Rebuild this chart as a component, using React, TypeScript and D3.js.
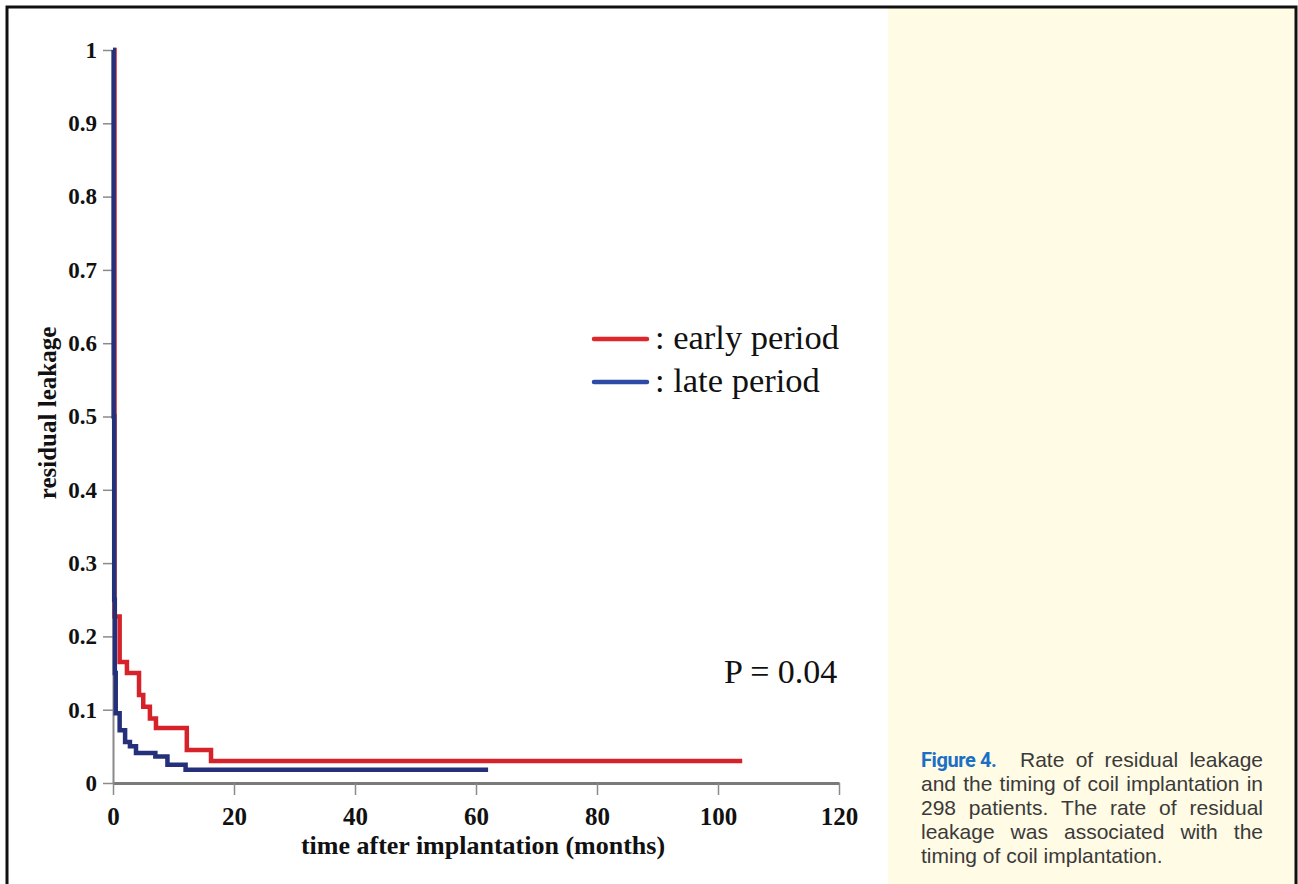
import { useEffect, useRef } from "react";
import * as d3 from "d3";

// axis ticks
const xTicks = [0, 20, 40, 60, 80, 100, 120];
const yTicks = [0, 0.1, 0.2, 0.3, 0.4, 0.5, 0.6, 0.7, 0.8, 0.9, 1];

// step curves (time in months, rate)
const earlyTime = [0, 0.25, 1.1, 2.3, 4.3, 5.0, 6.1, 7.1, 12.2, 16.2, 104];
const earlyRate = [1, 0.227, 0.165, 0.15, 0.12, 0.104, 0.088, 0.075, 0.045, 0.03, 0.03];
const lateTime = [0, 0.1, 0.2, 0.3, 0.45, 1.1, 2.0, 2.8, 3.8, 7.0, 9.0, 12.0, 62];
const lateRate = [1, 0.5, 0.25, 0.15, 0.095, 0.072, 0.056, 0.05, 0.041, 0.036, 0.025, 0.018, 0.018];

const seriesNames = ["early period", "late period"];
const pValue = "P = 0.04";

const captionTitle = "Figure 4.";
const captionLines = [
    ["Rate", "of", "residual", "leakage"],
    ["and", "the", "timing", "of", "coil", "implantation", "in"],
    ["298", "patients.", "The", "rate", "of", "residual"],
    ["leakage", "was", "associated", "with", "the"],
    ["timing", "of", "coil", "implantation."],
];

export default function App() {
    const svgRef = useRef<SVGSVGElement>(null);

    useEffect(() => {
        if (!svgRef.current) return;
        const svg = d3.select(svgRef.current);
        svg.selectAll("*").remove();

        const width = 1298;
        const height = 884;
        const serif = "'Liberation Serif', 'Times New Roman', serif";
        const sans = "'Liberation Sans', Arial, sans-serif";

        svg.append("rect").attr("width", width).attr("height", height).attr("fill", "#fff");

        // caption panel
        svg.append("rect")
            .attr("x", 888).attr("y", 8)
            .attr("width", 407).attr("height", height)
            .attr("fill", "#fffbe4");

        // frame
        svg.append("rect")
            .attr("x", 7).attr("y", 7)
            .attr("width", 1289).attr("height", 920)
            .attr("fill", "none")
            .attr("stroke", "#111")
            .attr("stroke-width", 3);

        const x = d3.scaleLinear().domain([0, 120]).range([113, 839]);
        const y = d3.scaleLinear().domain([0, 1]).range([783, 50]);

        // x axis
        const gx = svg.append("g")
            .attr("transform", `translate(0,${y(0)})`)
            .call(d3.axisBottom(x).tickValues(xTicks).tickSize(12).tickSizeOuter(0).tickPadding(12));
        gx.select(".domain").attr("stroke", "#7a7a7a").attr("stroke-width", 3);
        gx.selectAll(".tick line").attr("stroke", "#8a8a8a").attr("stroke-width", 1.5);
        gx.selectAll(".tick text")
            .attr("fill", "#111")
            .style("font-family", serif)
            .style("font-weight", "bold")
            .style("font-size", "25px");

        // y axis
        const gy = svg.append("g")
            .attr("transform", `translate(${x(0)},0)`)
            .call(d3.axisLeft(y).tickValues(yTicks).tickFormat(d3.format("~g")).tickSize(10).tickSizeOuter(0).tickPadding(6));
        gy.select(".domain").attr("stroke", "#8a8a8a").attr("stroke-width", 2);
        gy.selectAll(".tick line").attr("stroke", "#8a8a8a").attr("stroke-width", 1.5);
        gy.selectAll(".tick text")
            .attr("fill", "#111")
            .style("font-family", serif)
            .style("font-weight", "bold")
            .style("font-size", "23px");

        // axis titles
        svg.append("text")
            .text("time after implantation (months)")
            .attr("x", 483).attr("y", 854)
            .attr("text-anchor", "middle")
            .attr("fill", "#111")
            .style("font-family", serif)
            .style("font-weight", "bold")
            .style("font-size", "26px");

        svg.append("text")
            .text("residual leakage")
            .attr("transform", "translate(56,413) rotate(-90)")
            .attr("text-anchor", "middle")
            .attr("fill", "#111")
            .style("font-family", serif)
            .style("font-weight", "bold")
            .style("font-size", "25px");

        // curves
        const line = d3.line<[number, number]>()
            .x(d => x(d[0]))
            .y(d => y(d[1]))
            .curve(d3.curveStepAfter);

        const early: [number, number][] = earlyTime.map((t, i) => [t, earlyRate[i]]);
        const late: [number, number][] = lateTime.map((t, i) => [t, lateRate[i]]);

        svg.append("path")
            .datum(early)
            .attr("fill", "none")
            .attr("stroke", "#d6232b")
            .attr("stroke-width", 4.5)
            .attr("d", line);

        svg.append("path")
            .datum(late)
            .attr("fill", "none")
            .attr("stroke", "#25307a")
            .attr("stroke-width", 4.5)
            .attr("d", line);

        // legend
        const legendColors = ["#e0262b", "#2d4ba5"];
        seriesNames.forEach((name, i) => {
            const ly = 339 + i * 43;
            svg.append("line")
                .attr("x1", 594).attr("x2", 647)
                .attr("y1", ly).attr("y2", ly)
                .attr("stroke", legendColors[i])
                .attr("stroke-width", 4.5)
                .attr("stroke-linecap", "round");
            svg.append("text")
                .text(": " + name)
                .attr("x", 655).attr("y", ly + 9.5)
                .attr("fill", "#111")
                .style("font-family", serif)
                .style("font-size", "34.5px");
        });

        svg.append("text")
            .text(pValue)
            .attr("x", 724).attr("y", 683)
            .attr("fill", "#111")
            .style("font-family", serif)
            .style("font-size", "34px");

        // caption (justified)
        const capLeft = 921;
        const capRight = 1263;
        const lineH = 24;
        const base0 = 767;

        svg.append("text")
            .text(captionTitle)
            .attr("x", capLeft).attr("y", base0)
            .attr("fill", "#1b6fc4")
            .style("font-family", "Roboto, 'Liberation Sans', sans-serif")
            .style("font-weight", "bold")
            .style("font-size", "20px")
            .style("letter-spacing", "-0.4px");

        captionLines.forEach((words, li) => {
            const left = li === 0 ? 1020 : capLeft;
            const by = base0 + li * lineH;
            const nodes = words.map(w =>
                svg.append("text")
                    .text(w)
                    .attr("y", by)
                    .attr("fill", "#3a3a3a")
                    .style("font-family", sans)
                    .style("font-size", "21px")
            );
            const widths = nodes.map(n => (n.node() as SVGTextElement).getComputedTextLength());
            const total = d3.sum(widths);
            const last = li === captionLines.length - 1;
            const gap = last ? 21 * 0.278 : (capRight - left - total) / (words.length - 1);
            let cx = left;
            nodes.forEach((n, i) => {
                n.attr("x", cx);
                cx += widths[i] + gap;
            });
        });
    }, []);

    return (
        <svg
            ref={svgRef}
            width={1298}
            height={884}
            style={{ position: "absolute", left: 0, top: 0, display: "block" }}
        />
    );
}
